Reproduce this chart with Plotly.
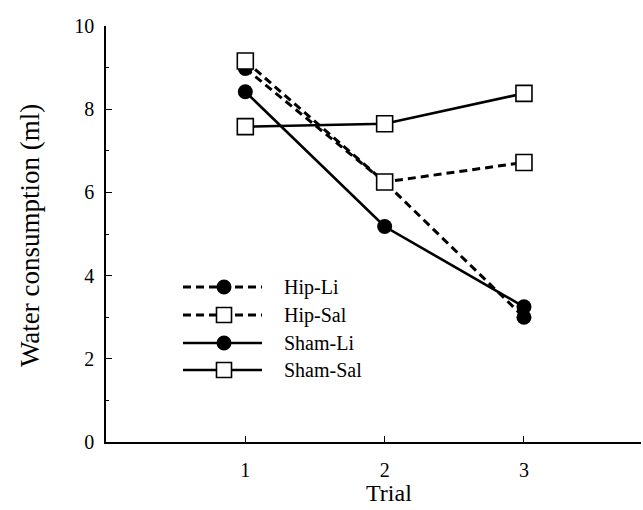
import plotly.graph_objects as go

trials = [1, 2, 3]
hip_li = [8.98, 6.25, 3.0]
hip_sal = [9.16, 6.25, 6.72]
sham_li = [8.42, 5.18, 3.25]
sham_sal = [7.58, 7.65, 8.38]

series = [
    ("Hip-Li", hip_li, "circle", "black", "dash"),
    ("Hip-Sal", hip_sal, "square", "white", "dash"),
    ("Sham-Li", sham_li, "circle", "black", "solid"),
    ("Sham-Sal", sham_sal, "square", "white", "solid"),
]

FONT = "Liberation Serif"
W, H = 643, 510
ML, MR, MT, MB = 106, 2, 26, 68
PW, PH = W - ML - MR, H - MT - MB

fig = go.Figure()
dash_pat = "8px,5px"
for name, vals, sym, fill, dash in series:
    fig.add_trace(go.Scatter(
        x=trials, y=vals, mode="lines+markers", name=name, showlegend=False,
        line=dict(color="black", width=2.6 if dash == "solid" else 3, dash=dash_pat if dash == "dash" else "solid"),
        marker=dict(symbol=sym, size=15 if sym == "circle" else 16, color=fill,
                    line=dict(color="black", width=1.6 if sym == "square" else 0)),
        cliponaxis=False,
    ))

# manual legend (pixel positions converted to paper coords)
def px(x):
    return (x - ML) / PW

def py(y):
    return (MT + PH - y) / PH

shapes = []
annotations = []
rows = [287, 315, 343, 370]
for (name, vals, sym, fill, dash), ry in zip(series, rows):
    shapes.append(dict(type="line", xref="paper", yref="paper", x0=px(183), x1=px(262), y0=py(ry), y1=py(ry),
                       line=dict(color="black", width=2.6 if dash == "solid" else 3,
                                 dash=dash_pat if dash == "dash" else "solid")))
    cx = 224
    r = 7.5
    if sym == "circle":
        shapes.append(dict(type="circle", xref="paper", yref="paper", x0=px(cx - r), x1=px(cx + r),
                           y0=py(ry + r), y1=py(ry - r), fillcolor="black", line=dict(color="black", width=0)))
    else:
        shapes.append(dict(type="rect", xref="paper", yref="paper", x0=px(cx - r), x1=px(cx + r),
                           y0=py(ry + r), y1=py(ry - r), fillcolor="white", line=dict(color="black", width=1.6)))
    annotations.append(dict(text=name, xref="paper", yref="paper", x=px(282), y=py(ry), xanchor="left",
                            yanchor="middle", showarrow=False, font=dict(family=FONT, size=20, color="black")))

annotations.append(dict(text="Water consumption (ml)", xref="paper", yref="paper", x=px(30), y=py(236),
                        textangle=-90, showarrow=False, xanchor="center", yanchor="middle",
                        font=dict(family=FONT, size=27, color="black")))
annotations.append(dict(text="Trial", xref="paper", yref="paper", x=px(389), y=py(493),
                        showarrow=False, xanchor="center", yanchor="middle",
                        font=dict(family=FONT, size=24, color="black")))

fig.update_layout(
    width=W, height=H,
    margin=dict(l=ML, r=MR, t=MT, b=MB),
    paper_bgcolor="white", plot_bgcolor="white",
    font=dict(family=FONT, size=20, color="black"),
    shapes=shapes, annotations=annotations,
    xaxis=dict(range=[0, 3.84], tickvals=[1, 2, 3], ticks="inside", ticklen=6, tickwidth=1.3,
               tickcolor="black", showline=True, linecolor="black", linewidth=1.6, showgrid=False,
               zeroline=False, ticklabelstandoff=9, tickfont=dict(family=FONT, size=20)),
    yaxis=dict(range=[0, 10], tickvals=[0, 2, 4, 6, 8, 10], ticks="inside", ticklen=6, tickwidth=1.3,
               tickcolor="black", showline=True, linecolor="black", linewidth=1.6, showgrid=False,
               zeroline=False, ticklabelstandoff=6, tickfont=dict(family=FONT, size=20),
               minor=dict(tickvals=[1, 3, 5, 7, 9], ticks="inside", ticklen=3, tickcolor="black", tickwidth=1.2)),
)

fig.write_html("out.html")
